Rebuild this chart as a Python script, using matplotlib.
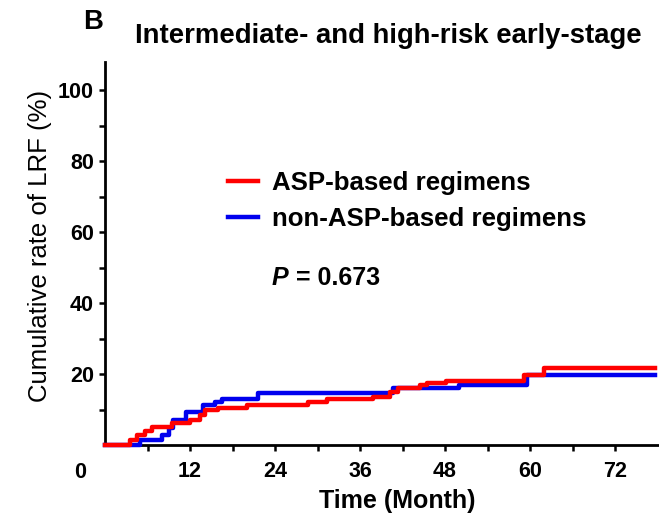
import matplotlib
matplotlib.use("Agg")
import matplotlib.pyplot as plt
from matplotlib.ticker import FixedLocator

plt.rcParams['font.family'] = ['Liberation Sans', 'DejaVu Sans']

# cumulative LRF (%) step curves, months
asp_t = [0, 3.5, 4.5, 5.6, 6.6, 9.4, 12.0, 13.4, 14.1, 16.0, 20.0, 28.7, 31.3,
         37.8, 40.2, 41.3, 44.4, 45.4, 48.2, 59.2, 62.0, 77.6]
asp_y = [0, 1.4, 2.8, 4.0, 5.2, 6.1, 7.0, 8.5, 9.9, 10.3, 11.2, 12.2, 12.9,
         13.6, 15.0, 16.0, 16.9, 17.4, 18.1, 19.7, 21.6, 21.6]

non_t = [0, 4.9, 8.0, 9.0, 9.6, 11.5, 13.9, 15.5, 16.5, 21.6, 40.6, 50.0, 59.6, 77.6]
non_y = [0, 1.4, 2.8, 4.8, 7.0, 9.4, 11.3, 12.2, 13.1, 14.6, 16.0, 16.9, 19.7, 19.7]

labels = ['ASP-based regimens', 'non-ASP-based regimens']
p_value = '0.673'

W, H = 659, 513
fig = plt.figure(figsize=(W / 100, H / 100), dpi=100)
ax = fig.add_axes([105 / W, 1 - 445 / H, (W - 105) / W, (445 - 62) / H])

ax.step(non_t, non_y, where='post', color='#0000ee', lw=3.2, label=labels[1],
        clip_on=False, zorder=3)
ax.step(asp_t, asp_y, where='post', color='#ff0000', lw=3.2, label=labels[0],
        clip_on=False, zorder=4)

ax.set_xlim(0, 78.2)
ax.set_ylim(0, 108)

for s in ['top', 'right']:
    ax.spines[s].set_visible(False)
for s in ['left', 'bottom']:
    ax.spines[s].set_linewidth(2)

ax.xaxis.set_major_locator(FixedLocator([12, 24, 36, 48, 60, 72]))
ax.xaxis.set_minor_locator(FixedLocator([6, 18, 30, 42, 54, 66]))
ax.yaxis.set_major_locator(FixedLocator([20, 40, 60, 80, 100]))
ax.yaxis.set_minor_locator(FixedLocator([10, 30, 50, 70, 90]))
ax.tick_params(which='both', direction='out', length=4.5, width=1.8)
ax.tick_params(axis='x', which='major', pad=7, labelsize=15.5)
ax.tick_params(axis='y', which='major', pad=3.5, labelsize=15.5)
for lab in ax.get_xticklabels() + ax.get_yticklabels():
    lab.set_fontweight('bold')

# origin label sits at the corner
ax.annotate('0', xy=(0, 0), xycoords='axes fraction', xytext=(-25, -27),
            textcoords='offset pixels', ha='center', va='center',
            fontsize=15.5, fontweight='bold')

fig.text(40 / W, 1 - 246 / H, 'Cumulative rate of LRF (%)', rotation=90,
         ha='center', va='center', fontsize=18.5)
fig.text(397 / W, 1 - 508 / H, 'Time (Month)', ha='center', va='baseline',
         fontsize=18, fontweight='bold')
fig.text(388 / W, 1 - 36 / H, 'Intermediate- and high-risk early-stage',
         ha='center', va='center', fontsize=19.8, fontweight='bold')
fig.text(93 / W, 1 - 22 / H, 'B', ha='center', va='center',
         fontsize=19.8, fontweight='bold')

handles, labs = ax.get_legend_handles_labels()
order = [labs.index(l) for l in labels]
ax.legend([handles[i] for i in order], [labs[i] for i in order],
          loc='upper left', bbox_to_anchor=(228 / W, 1 - 171 / H),
          bbox_transform=fig.transFigure, frameon=False, borderpad=0,
          borderaxespad=0, handlelength=1.15, handletextpad=0.55,
          labelspacing=0.45, prop={'size': 18.6, 'weight': 'bold'})

ptxt = fig.text(272 / W, 1 - 278 / H, 'P', ha='left', va='center',
                fontsize=18, fontweight='bold', style='italic')
ax.annotate(' = ' + p_value, xy=(1, 0), xycoords=ptxt, va='bottom',
            fontsize=18, fontweight='bold')

fig.savefig('out.png', dpi=100)
